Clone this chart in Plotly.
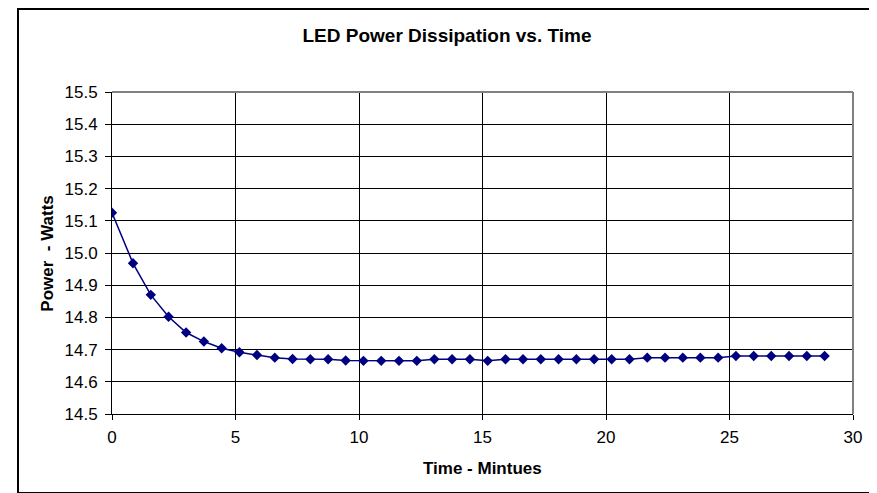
import plotly.graph_objects as go

# Data
time_min = [0, 0.85, 1.57, 2.29, 3.00, 3.72, 4.44, 5.16, 5.87, 6.59, 7.31,
            8.03, 8.75, 9.46, 10.18, 10.90, 11.62, 12.34, 13.05, 13.77, 14.49,
            15.21, 15.93, 16.64, 17.36, 18.08, 18.80, 19.52, 20.23, 20.95, 21.67,
            22.39, 23.11, 23.82, 24.54, 25.26, 25.98, 26.69, 27.41, 28.13, 28.85]
power_w = [15.125, 14.968, 14.870, 14.802, 14.753, 14.725, 14.704, 14.692, 14.683, 14.675, 14.671,
           14.670, 14.670, 14.666, 14.665, 14.665, 14.665, 14.665, 14.670, 14.670, 14.670,
           14.665, 14.670, 14.670, 14.670, 14.670, 14.670, 14.670, 14.670, 14.670, 14.675,
           14.675, 14.675, 14.675, 14.675, 14.680, 14.680, 14.680, 14.680, 14.680, 14.680]

title_text = "LED Power Dissipation vs. Time"
x_title = "Time - Mintues"
y_title = "Power  - Watts"

FONT = "Liberation Sans, Arial, sans-serif"
NAVY = "#000080"
OFF = 8  # page body margin

fig = go.Figure()
fig.add_trace(go.Scatter(
    x=time_min, y=power_w, mode="lines+markers",
    line=dict(color=NAVY, width=1.5),
    marker=dict(symbol="diamond", size=8, color=NAVY),
    showlegend=False,
))

W, H = 877 - OFF, 493 - OFF
L, R, T, B = 112 - OFF, 853 - OFF, 92 - OFF, 414 - OFF
pw, ph = R - L, B - T

def px(x):
    return (x - OFF - L) / pw

def py(y):
    return (B - (y - OFF)) / ph

fig.update_layout(
    width=W, height=H,
    margin=dict(l=L, r=W - R, t=T, b=H - B, pad=0),
    paper_bgcolor="white", plot_bgcolor="white",
    font=dict(family=FONT, size=17, color="black"),
    title=dict(text="<b>" + title_text + "</b>", x=(447 - OFF) / W, xref="container",
               xanchor="center", y=1 - (35 - OFF) / H, yanchor="middle",
               font=dict(size=19, family=FONT, color="black")),
    xaxis=dict(range=[0, 30], dtick=5, tick0=0, showgrid=True, gridcolor="black",
               gridwidth=1, showline=True, linecolor="black", linewidth=1,
               ticks="outside", ticklen=5, tickcolor="black", zeroline=False,
               ticklabelstandoff=3,
               tickfont=dict(size=17, family=FONT)),
    yaxis=dict(range=[14.5, 15.5], dtick=0.1, tick0=14.5, tickformat=".1f",
               showgrid=True, gridcolor="black", gridwidth=1, showline=True,
               linecolor="black", linewidth=1, ticks="outside", ticklen=6,
               tickcolor="black", zeroline=False, ticklabelstandoff=4,
               tickfont=dict(size=17, family=FONT)),
    annotations=[
        dict(text="<b>" + x_title + "</b>", xref="paper", yref="paper",
             x=0.5, y=py(468), xanchor="center", yanchor="middle",
             showarrow=False, font=dict(size=17, family=FONT)),
        dict(text="<b>" + y_title + "</b>", xref="paper", yref="paper",
             x=px(46.7), y=0.5, xanchor="center", yanchor="middle", textangle=-90,
             showarrow=False, font=dict(size=17, family=FONT)),
    ],
    shapes=[
        # plot-area border (gray top/right)
        dict(type="line", xref="paper", yref="paper", x0=0, x1=1, y0=1, y1=1,
             line=dict(color="#808080", width=2), layer="above"),
        dict(type="line", xref="paper", yref="paper", x0=1, x1=1, y0=0, y1=1,
             line=dict(color="#808080", width=2), layer="above"),
        # outer chart border
        dict(type="rect", xref="paper", yref="paper",
             x0=px(18), x1=px(875), y0=py(493), y1=py(9),
             line=dict(color="black", width=2), layer="above"),
    ],
)

fig.write_html("out.html")
